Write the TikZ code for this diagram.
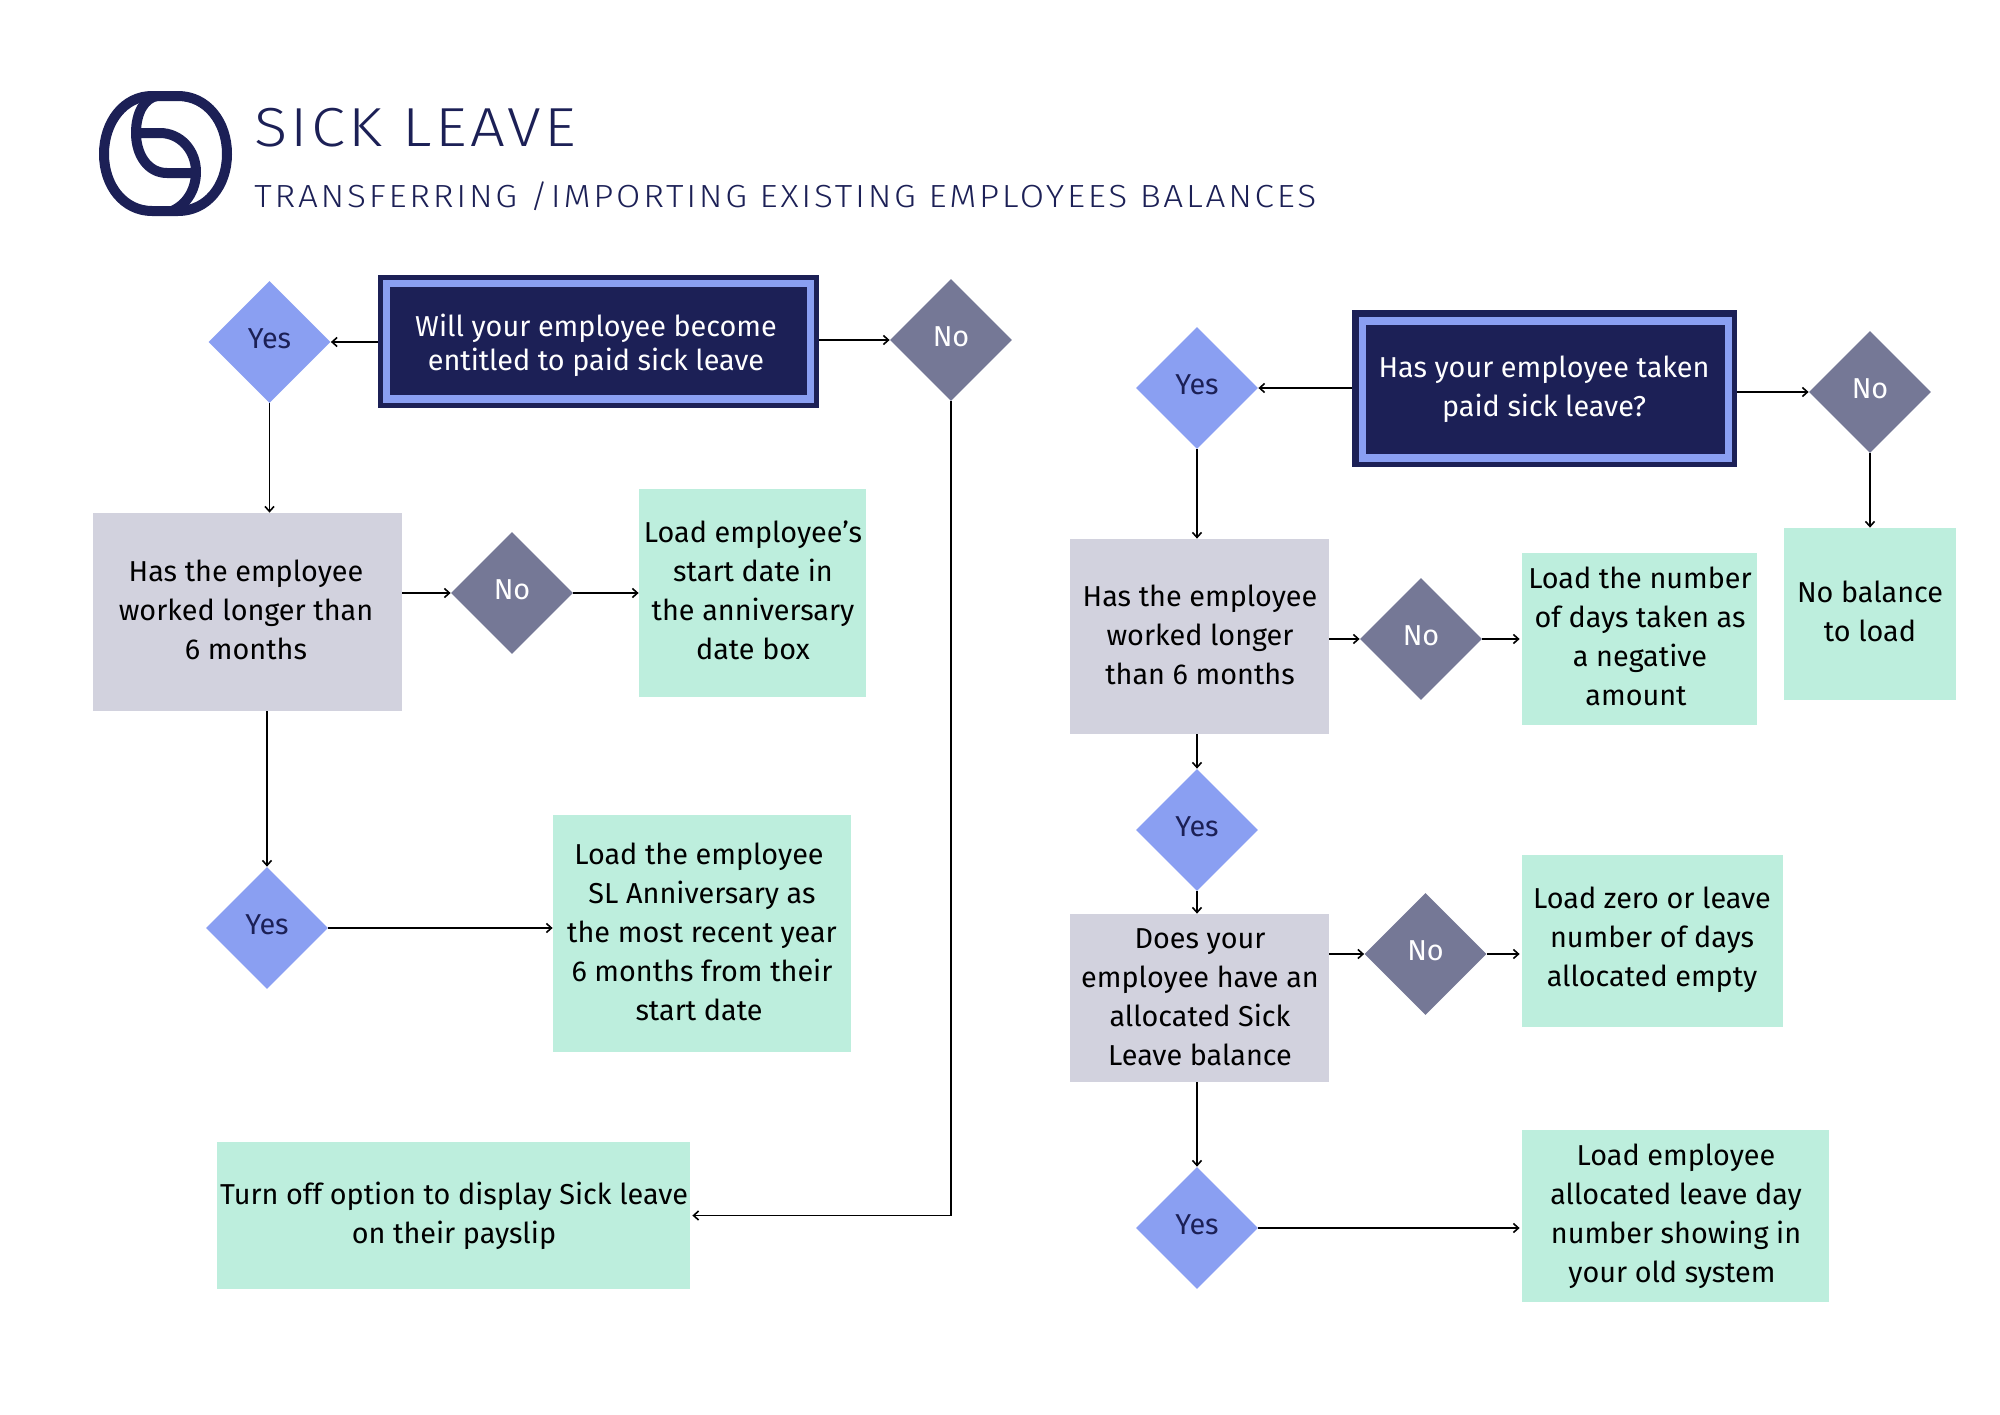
\documentclass[tikz,border=0pt]{standalone}
\usepackage{fontspec}
\usetikzlibrary{shapes.geometric,arrows.meta,calc}
\setmainfont{Fira Sans}
\newfontfamily\titlef[LetterSpace=6,FakeStretch=1.12]{Fira Sans Light}
\newfontfamily\subf[LetterSpace=8.6,FakeStretch=1.1]{Fira Sans Light}
\definecolor{navy}{HTML}{1C2056}
\definecolor{lblue}{HTML}{8A9FF2}
\definecolor{slate}{HTML}{757896}
\definecolor{greyb}{HTML}{D2D2DE}
\definecolor{greenb}{HTML}{BDEEDD}
\tikzset{
 x=0.5pt,y=-0.5pt,
 ask/.style={shape=diamond,shape aspect=1,minimum width=61pt,minimum height=61pt,inner sep=0pt,fill=#1,font=\fontsize{14.4}{16}\selectfont,text height=9.5pt,text depth=3pt},
 yesd/.style={ask=lblue,text=navy},
 nod/.style={ask=slate,text=white},
 lbl/.style={align=center,anchor=north,inner sep=0pt,yshift=-2pt,text=black,font=\fontsize{14.4}{19.5}\selectfont,execute at begin node={\rule{0pt}{12pt}}},
 wlbl/.style={lbl,text=white,font=\fontsize{14.4}{17}\selectfont},
 wlbb/.style={lbl,text=white},
 boxg/.style={shape=rectangle,inner sep=0pt,fill=greyb},
 boxn/.style={shape=rectangle,inner sep=0pt,fill=greenb},
 arr/.style={draw=black,line width=0.85pt,-{Straight Barb[length=2.5pt,width=4.5pt,line width=0.8pt]}},
 logo/.style={draw=navy,line width=5pt,line join=round},
}
\newcommand{\boxat}[6]{\node[#1,minimum width=#5*0.5pt-#3*0.5pt,minimum height=#6*0.5pt-#4*0.5pt] (#2) at ({(#3+#5)/2},{(#4+#6)/2}) {};}
\newcommand{\nudgeL}[1]{\hspace*{#1pt}}
\begin{document}
\begin{tikzpicture}
\useasboundingbox (0,0) rectangle (2000,1414);
\fill[white] (0,0) rectangle (2000,1414);
% logo
\draw[logo] (152,96) -- (178,96) .. controls (207,96) and (227,122) .. (227,154) .. controls (227,186) and (207,211) .. (178,211) -- (152,211) .. controls (124,211) and (104,186) .. (104,154) .. controls (104,122) and (124,96) .. (152,96) -- cycle;
\draw[logo] (157,96) .. controls (145,98) and (136,112) .. (136,133) .. controls (136,155) and (148,173) .. (167,173) -- (196,173);
\draw[logo] (136,133) -- (160,133) .. controls (180,133) and (196,150) .. (196,172) .. controls (196,188) and (188,204) .. (172,211);
\node[anchor=base west,inner sep=0pt,text=navy,font=\titlef\fontsize{27.5}{30}\selectfont] (title) at (254,146) {SICK LEAVE};
\node[anchor=base west,inner sep=0pt,text=navy,font=\subf\fontsize{16}{20}\selectfont] (subtitle) at (254,207) {TRANSFERRING /IMPORTING EXISTING EMPLOYEES BALANCES};
% left main box
\boxat{shape=rectangle,inner sep=0pt,fill=navy}{m1}{378}{275}{819}{408}
\boxat{shape=rectangle,inner sep=0pt,fill=lblue}{m1a}{383}{280}{814}{403}
\boxat{shape=rectangle,inner sep=0pt,fill=navy}{m1b}{390}{287}{807}{395}
\node[wlbl] (m1t) at (596,310) {Will your employee become\\entitled to paid sick leave};
\node[yesd] (y1) at (269.5,342) {Yes};
\node[nod] (n1) at (951,340) {No};
\boxat{boxg}{b1}{93}{513}{402}{711}
\node[lbl] (b1t) at (246,555) {Has the employee\\worked longer than\nudgeL{3}\\6 months};
\node[nod] (n2) at (512,593) {No};
\boxat{boxn}{g1}{639}{489}{866}{697}
\node[lbl] (g1t) at (753,516) {Load employee’s\\start date in\nudgeL{5}\\the anniversary\\date box};
\node[yesd] (y2) at (267,928) {Yes};
\boxat{boxn}{g2}{553}{815}{851}{1052}
\node[lbl] (g2t) at (702,838) {Load the employee\nudgeL{3}\\SL Anniversary as\nudgeL{3}\\the most recent year\\6 months from their\\start date\nudgeL{3}};
\boxat{boxn}{g7}{217}{1142}{690}{1289}
\node[lbl] (g7t) at (454,1178) {Turn off option to display Sick leave\\on their payslip};
% right main box
\boxat{shape=rectangle,inner sep=0pt,fill=navy}{m2}{1352}{310}{1737}{467}
\boxat{shape=rectangle,inner sep=0pt,fill=lblue}{m2a}{1359}{317}{1732}{462}
\boxat{shape=rectangle,inner sep=0pt,fill=navy}{m2b}{1366}{325}{1725}{454}
\node[wlbb] (m2t) at (1544,351) {Has your employee taken\\paid sick leave?};
\node[yesd] (y3) at (1197,388) {Yes};
\node[nod] (n3) at (1870,392) {No};
\boxat{boxg}{b2}{1070}{539}{1329}{734}
\node[lbl] (b2t) at (1200,580) {Has the employee\\worked longer\\than 6 months};
\node[nod] (n4) at (1421,639) {No};
\boxat{boxn}{g3}{1522}{553}{1757}{725}
\node[lbl] (g3t) at (1640,562) {Load the number\\of days taken as\\a negative\\amount\nudgeL{4}};
\boxat{boxn}{g4}{1784}{528}{1956}{700}
\node[lbl] (g4t) at (1870,576) {No balance\\to load};
\node[yesd] (y4) at (1197,830) {Yes};
\boxat{boxg}{b3}{1070}{914}{1329}{1082}
\node[lbl] (b3t) at (1200,924) {Does your\\employee have an\\allocated Sick\\Leave balance};
\node[nod] (n5) at (1425.5,954) {No};
\boxat{boxn}{g5}{1522}{855}{1783}{1027}
\node[lbl] (g5t) at (1652,882) {Load zero or leave\\number of days\\allocated empty};
\node[yesd] (y5) at (1197,1228) {Yes};
\boxat{boxn}{g6}{1522}{1130}{1829}{1302}
\node[lbl] (g6t) at (1676,1139) {Load employee\\allocated leave day\\number showing in\\your old system\nudgeL{4}};
% connectors
\draw[arr] (y1.east -| m1.west) -- (y1.east);
\draw[arr] (n1.west -| m1.east) -- (n1.west);
\draw[arr] (y1.south) -- (y1.south |- b1.north);
\draw[arr] (n2.west -| b1.east) -- (n2.west);
\draw[arr] (n2.east) -- (n2.east -| g1.west);
\draw[arr] (y2.north |- b1.south) -- (y2.north);
\draw[arr] (y2.east) -- (y2.east -| g2.west);
\draw[arr,shorten >=1pt] (n1.south) |- (g7.east);
\draw[arr] (y3.east -| m2.west) -- (y3.east);
\draw[arr] (n3.west -| m2.east) -- (n3.west);
\draw[arr] (y3.south) -- (y3.south |- b2.north);
\draw[arr] (n3.south) -- (n3.south |- g4.north);
\draw[arr] (n4.west -| b2.east) -- (n4.west);
\draw[arr,shorten >=1pt] (n4.east) -- (n4.east -| g3.west);
\draw[arr] (y4.north |- b2.south) -- (y4.north);
\draw[arr] (y4.south) -- (y4.south |- b3.north);
\draw[arr] (n5.west -| b3.east) -- (n5.west);
\draw[arr,shorten >=1pt] (n5.east) -- (n5.east -| g5.west);
\draw[arr] (y5.north |- b3.south) -- (y5.north);
\draw[arr,shorten >=1pt] (y5.east) -- (y5.east -| g6.west);
\end{tikzpicture}
\end{document}
